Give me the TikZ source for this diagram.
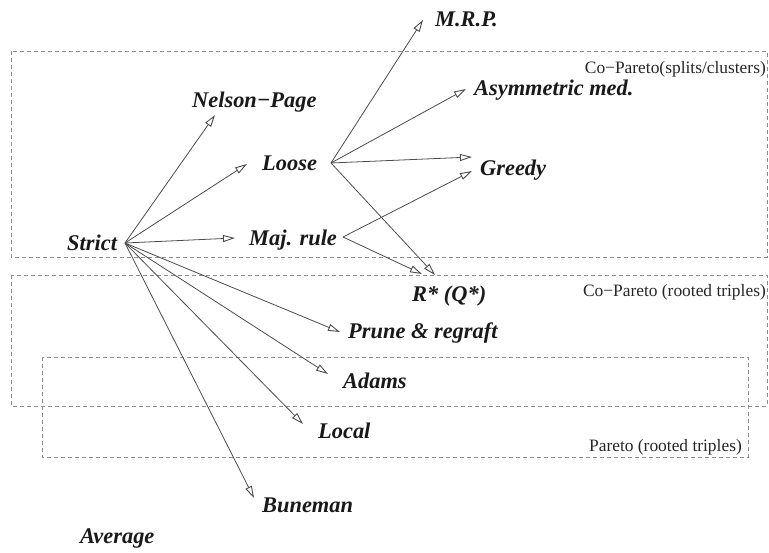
\documentclass[tikz,border=0pt]{standalone}
\usepackage{fontspec}
\setmainfont{Liberation Serif}
\usetikzlibrary{arrows.meta,calc}
\definecolor{linegray}{gray}{0.3}
\definecolor{boxgray}{gray}{0.55}
\tikzset{
  meth/.style={font=\fontsize{22.4}{26}\selectfont\bfseries\itshape, inner sep=0pt, anchor=base west, text=black!90},
  region/.style={draw=boxgray, dashed, dash pattern=on 4pt off 3pt, line width=0.6pt},
  reglabel/.style={font=\fontsize{17.4}{20}\selectfont, inner sep=0pt, anchor=base east, text=black!85},
  arr/.style={draw=linegray, line width=0.8pt, -{Triangle[open, length=12pt, width=7pt, line width=0.9pt]}},
}
\begin{document}
\begin{tikzpicture}[x=1pt, y=-1pt]
\useasboundingbox (0,0) rectangle (769,552);
% regions
\draw[region] (11,51) rectangle (767,257);
\draw[region] (11,275) rectangle (767,406);
\draw[region] (42,357) rectangle (748,457);
\node[reglabel] (lab1) at (766,73) {Co−Pareto(splits/clusters)};
\node[reglabel] (lab2) at (766,296) {Co−Pareto (rooted triples)};
\node[reglabel] (lab3) at (742,451) {Pareto (rooted triples)};
% methods
\node[meth] (strict) at (67,250) {Strict};
\node[meth] (nelson) at (192,107) {Nelson−Page};
\node[meth] (loose) at (262,170) {Loose};
\node[meth] (maj) at (249,245) {Maj. rule};
\node[meth] (mrp) at (435,26) {M.R.P.};
\node[meth] (asym) at (474,95) {Asymmetric med.};
\node[meth] (greedy) at (480,175) {Greedy};
\node[meth] (rstar) at (412,301) {R* (Q*)};
\node[meth] (prune) at (348,338) {Prune \& regraft};
\node[meth] (adams) at (343,388) {Adams};
\node[meth] (local) at (318,438) {Local};
\node[meth] (buneman) at (262,512) {Buneman};
\node[meth] (average) at (80,543) {Average};
% connectors from Strict
\draw[arr] ($(strict.base west)+(58,-7)$) -- ($(nelson.base west)+(23,8)$);
\draw[arr] ($(strict.base west)+(58,-7)$) -- ($(loose.base west)+(-15,-6)$);
\draw[arr] ($(strict.base west)+(58,-7)$) -- ($(maj.base west)+(-14,-7)$);
\draw[arr] ($(strict.base west)+(58,-7)$) -- ($(prune.base west)+(-8,-6)$);
\draw[arr] ($(strict.base west)+(58,-7)$) -- ($(adams.base west)+(-15,-14)$);
\draw[arr] ($(strict.base west)+(58,-7)$) -- ($(local.base west)+(-15,-14)$);
\draw[arr] ($(strict.base west)+(58,-7)$) -- ($(buneman.base west)+(-8,-14)$);
% connectors from Loose
\draw[arr] ($(loose.base west)+(69,-7)$) -- ($(mrp.base west)+(-12,-6)$);
\draw[arr] ($(loose.base west)+(69,-7)$) -- ($(asym.base west)+(-8,-6)$);
\draw[arr] ($(loose.base west)+(69,-7)$) -- ($(greedy.base west)+(-8,-18)$);
\draw[arr] ($(loose.base west)+(69,-7)$) -- ($(rstar.base west)+(23,-26)$);
% connectors from Maj. rule
\draw[arr] ($(maj.base west)+(94,-8)$) -- ($(greedy.base west)+(-8,-4)$);
\draw[arr] ($(maj.base west)+(94,-8)$) -- ($(rstar.base west)+(10,-27)$);
\end{tikzpicture}
\end{document}
